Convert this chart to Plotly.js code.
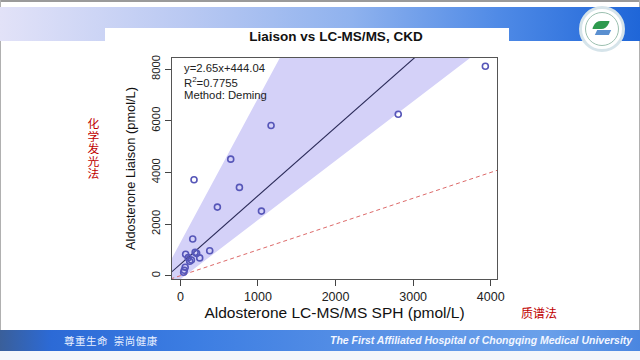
<!DOCTYPE html>
<html>
<head>
<meta charset="utf-8">
<script src="https://cdn.plot.ly/plotly-3.0.1.min.js"></script>
<style>
  html, body { margin:0; padding:0; width:640px; height:360px; overflow:hidden; background:#ffffff; }
  #slide { position:absolute; left:0; top:0; width:640px; height:360px; }
  .abs { position:absolute; }
  .vc { position:absolute; left:87px; width:13px; height:12px; color:#c00000; font:11.8px/12px 'Noto Sans CJK SC'; text-align:center; overflow:visible; }
  #chart { position:absolute; left:0; top:0; width:640px; height:360px; }
</style>
</head>
<body>
<div id="slide">
  <div class="abs" style="left:0;top:0;width:640px;height:2px;background:#9a9a9a;"></div>
  <div class="abs" style="left:0;top:0;width:1px;height:360px;background:#b0b0b0;"></div>
  <div class="abs" style="left:639px;top:0;width:1px;height:360px;background:#b0b0b0;"></div>
  <div class="abs" style="left:0;top:7px;width:640px;height:34px;background:linear-gradient(to right,#e2e2f8 0%,#b8c8f2 30%,#8fb2ee 55%,#4f8ae6 78%,#1f66d8 100%);"></div>
  <div class="abs" style="left:105px;top:28px;width:404px;height:14px;background:#ffffff;"></div>
  <div class="abs" style="left:579px;top:6px;width:46px;height:46px;border-radius:50%;background:#ffffff;border:3px solid #d6e4ea;box-sizing:border-box;"></div>
  <div class="abs" style="left:585px;top:12px;width:34px;height:34px;border-radius:50%;border:1px solid #9cc0b0;box-sizing:border-box;"></div>
  <div class="abs" style="left:594px;top:21px;width:14px;height:8px;border-radius:5px 1px 5px 1px;background:#2e9a4e;transform:skewX(-25deg);"></div>
  <div class="abs" style="left:596px;top:30px;width:14px;height:5px;background:#5a8fd0;transform:skewX(-25deg);"></div>
  <div class="abs" style="left:0;top:330px;width:640px;height:21px;background:linear-gradient(to right,#3a5f9a 0%,#2c6ad6 8%,#3c7de2 30%,#5a92e6 60%,#6aa0ea 85%,#4a86e0 100%);"></div>
  <div class="abs" style="left:0;top:351px;width:640px;height:9px;background:#f4f6fa;"></div>
  <div class="abs" style="left:64px;top:333px;color:#e8f0ff;font:10.5px 'Noto Sans CJK SC';letter-spacing:0.5px;white-space:nowrap;">尊重生命&nbsp;&nbsp;崇尚健康</div>
  <div class="abs" style="left:330px;top:334px;color:#f2f6ff;font:italic bold 10.5px 'Liberation Sans';white-space:nowrap;">The First Affiliated Hospital of Chongqing Medical University</div>
  <div class="vc" style="top:117px;">化</div>
  <div class="vc" style="top:129.5px;">学</div>
  <div class="vc" style="top:142px;">发</div>
  <div class="vc" style="top:154.5px;">光</div>
  <div class="vc" style="top:167px;">法</div>
  <div class="abs" style="left:521px;top:304px;color:#c00000;font:12px 'Noto Sans CJK SC';white-space:nowrap;">质谱法</div>
</div>
<div id="chart"></div>
<script>
// Measured points: Aldosterone LC-MS/MS SPH (x) vs Liaison (y), pmol/L
var sphValues = [1169, 649, 176, 761, 477, 1045, 159, 378, 68, 190, 210, 100, 142, 120, 249, 62, 50, 42, 2808, 3931];
var liaisonValues = [5818, 4514, 3714, 3420, 2658, 2503, 1420, 967, 828, 905, 866, 700, 607, 560, 690, 325, 210, 131, 6255, 8112];

// Deming fit (from the chart's own label)
var fitSlope = 2.65;
var fitIntercept = 444.04;
var lineXEnds = [-300, 4300];

// Confidence band edges
var bandUpperX = [-300, -108, 1281, 1500];
var bandUpperY = [-390, 680, 8433, 9800];
var bandLowerX = [4300, 3733, -108, -300];
var bandLowerY = [9740, 8433, -386, -827];

// Identity line y = x
var identityX = [-300, 4300];
var identityY = [-300, 4300];

var xTicks = [0, 1000, 2000, 3000, 4000];
var yTicks = [0, 2000, 4000, 6000, 8000];

var fitY = lineXEnds.map(function (x) { return fitSlope * x + fitIntercept; });

var traces = [
  {
    x: bandUpperX.concat(bandLowerX),
    y: bandUpperY.concat(bandLowerY),
    type: 'scatter', mode: 'lines', fill: 'toself',
    fillcolor: '#d4d1f8', line: {width: 0}, hoverinfo: 'skip', showlegend: false
  },
  {
    x: identityX, y: identityY, type: 'scatter', mode: 'lines',
    line: {color: '#dd6a6a', width: 1, dash: '4px,3px'}, showlegend: false
  },
  {
    x: lineXEnds, y: fitY, type: 'scatter', mode: 'lines',
    line: {color: '#2a2a58', width: 1.1}, showlegend: false
  },
  {
    x: sphValues, y: liaisonValues, type: 'scatter', mode: 'markers',
    marker: {symbol: 'circle-open', size: 6, color: '#5656b8', line: {width: 1.6, color: '#5656b8'}},
    showlegend: false
  }
];

var fam = 'Liberation Sans, Arial, sans-serif';

var layout = {
  width: 640, height: 360,
  paper_bgcolor: 'rgba(0,0,0,0)',
  plot_bgcolor: '#ffffff',
  margin: {l: 172, r: 143, t: 58, b: 81},
  title: {
    text: '<b>Liaison vs LC-MS/MS, CKD</b>',
    font: {family: fam, size: 13.5, color: '#111'},
    xref: 'container', yref: 'container', x: 0.525, y: 0.9, xanchor: 'center', yanchor: 'middle'
  },
  xaxis: {
    range: [-108, 4081], tickvals: xTicks, ticktext: xTicks.map(String),
    ticks: 'outside', ticklen: 6, tickcolor: '#444', tickwidth: 1,
    showline: true, mirror: true, linecolor: '#555', linewidth: 1,
    showgrid: false, zeroline: false, tickfont: {family: fam, size: 12.5, color: '#222'},
    title: {text: 'Aldosterone LC-MS/MS SPH (pmol/L)', font: {family: fam, size: 15.5, color: '#111'}, standoff: 3}
  },
  yaxis: {
    range: [-128, 8433], tickvals: yTicks, ticktext: yTicks.map(String),
    ticks: 'outside', ticklen: 6, tickcolor: '#444', tickwidth: 1, tickangle: -90,
    showline: true, mirror: true, linecolor: '#555', linewidth: 1,
    showgrid: false, zeroline: false, tickfont: {family: fam, size: 11.3, color: '#222'},
    title: {text: 'Aldosterone Liaison (pmol/L)', font: {family: fam, size: 12.8, color: '#111'}, standoff: 12}
  },
  annotations: [
    {xref: 'paper', yref: 'paper', x: 0.03, y: 0.955, xanchor: 'left', yanchor: 'middle', showarrow: false,
     align: 'left', text: 'y=2.65x+444.04', font: {family: fam, size: 11.3, color: '#222'}},
    {xref: 'paper', yref: 'paper', x: 0.03, y: 0.892, xanchor: 'left', yanchor: 'middle', showarrow: false,
     align: 'left', text: 'R<sup>2</sup>=0.7755', font: {family: fam, size: 11.3, color: '#222'}},
    {xref: 'paper', yref: 'paper', x: 0.03, y: 0.834, xanchor: 'left', yanchor: 'middle', showarrow: false,
     align: 'left', text: 'Method: Deming', font: {family: fam, size: 11.3, color: '#222'}}
  ]
};

Plotly.newPlot('chart', traces, layout, {staticPlot: true, displayModeBar: false});
</script>
</body>
</html>
